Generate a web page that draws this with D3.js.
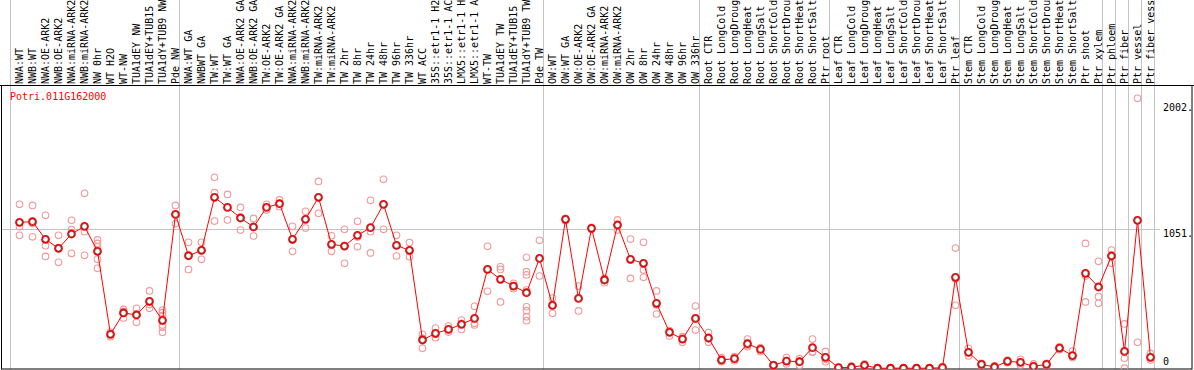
<!DOCTYPE html>
<html>
<head>
<meta charset="utf-8">
<script src="https://cdn.jsdelivr.net/npm/d3@7"></script>
<style>
  body { margin: 0; background: #fff; }
  svg { display: block; }
  text { font-family: 'DejaVu Sans Mono', 'Liberation Mono', monospace; font-size: 10px; }
</style>
</head>
<body>
<div id="vis"></div>
<script>
// gene shown in the plot
const geneId = 'Potri.011G162000';

// sample names, one per column (as far as they are readable in the header)
const labels = [
  'NWA:WT', 'NWB:WT', 'NWA:OE-ARK2', 'NWB:OE-ARK2', 'NWA:miRNA-ARK2', 'NWB:miRNA-ARK2',
  'NW 0hr', 'WT H2O', 'WT-NW', 'TUA1dEY NW', 'TUA1dEY+TUB15', 'TUA1dY+TUB9 NW', 'Pde NW',
  'NWA:WT GA', 'NWBWT GA', 'TW:WT', 'TW:WT GA', 'NWA:OE-ARK2 GA', 'NWB:OE-ARK2 GA',
  'TW:OE-ARK2', 'TW:OE-ARK2 GA', 'NWA:miRNA-ARK2', 'NWB:miRNA-ARK2', 'TW:miRNA-ARK2',
  'TW:miRNA-ARK2', 'TW 2hr', 'TW 8hr', 'TW 24hr', 'TW 48hr', 'TW 96hr', 'TW 336hr',
  'WT ACC', '35S::etr1-1 H2', '35S::etr1-1 AC', 'LMX5::etr1-1 H', 'LMX5::etr1-1 A',
  'WT-TW', 'TUA1dEY TW', 'TUA1dEY+TUB15', 'TUA1dY+TUB9 TW', 'Pde TW',
  'OW:WT', 'OW:WT GA', 'OW:OE-ARK2', 'OW:OE-ARK2 GA', 'OW:miRNA-ARK2', 'OW:miRNA-ARK2',
  'OW 2hr', 'OW 8hr', 'OW 24hr', 'OW 48hr', 'OW 96hr', 'OW 336hr',
  'Root CTR', 'Root LongCold', 'Root LongDroug', 'Root LongHeat', 'Root LongSalt',
  'Root ShortCold', 'Root ShortDrou', 'Root ShortHeat', 'Root ShortSalt', 'Ptr root',
  'Leaf CTR', 'Leaf LongCold', 'Leaf LongDroug', 'Leaf LongHeat', 'Leaf LongSalt',
  'Leaf ShortCold', 'Leaf ShortDrou', 'Leaf ShortHeat', 'Leaf ShortSalt', 'Ptr leaf',
  'Stem CTR', 'Stem LongCold', 'Stem LongDroug', 'Stem LongHeat', 'Stem LongSalt',
  'Stem ShortCold', 'Stem ShortDrou', 'Stem ShortHeat', 'Stem ShortSalt',
  'Ptr shoot', 'Ptr xylem', 'Ptr phloem', 'Ptr fiber', 'Ptr vessel', 'Ptr fiber vess',
];

// mean expression per column
const means = [
  1101, 1106, 973, 905, 1013, 1071, 882, 256, 417, 402, 505, 361, 1161, 849, 890,
  1290, 1214, 1134, 1066, 1214, 1242, 973, 1124, 1290, 935, 922, 1003, 1061, 1237, 927,
  890, 213, 263, 293, 331, 376, 746, 671, 620, 570, 829, 474, 1124, 527, 1056,
  666, 1081, 822, 792, 490, 271, 220, 376, 228, 62, 72, 185, 142, 22, 54,
  49, 155, 82, 4, 7, 22, 0, 0, 0, 0, 0, 4, 686, 120, 29,
  9, 52, 44, 14, 29, 152, 95, 716, 613, 847, 127, 1116, 82,
];

// individual replicate values per column
const replicates = [
  [1237, 1068, 1003], [1229, 1092, 992], [1154, 925, 844], [1003, 910, 799],
  [1117, 1046, 867], [1320, 1031, 852], [968, 942, 917, 822, 754], [271, 256, 238],
  [444, 427, 379], [452, 407, 346], [583, 480, 452], [439, 419, 397, 326, 309, 271],
  [1229, 1161, 1092], [950, 849, 746], [950, 892, 822], [1441, 1325, 1111],
  [1312, 1214, 1119], [1214, 1139, 1043], [1131, 1066, 998], [1237, 1214, 1194],
  [1270, 1242, 1219], [1071, 968, 882], [1184, 1124, 1058], [1410, 1290, 1169],
  [1000, 927, 882], [1048, 922, 792], [1109, 990, 917], [1267, 1031, 870],
  [1426, 1237, 1048], [1003, 927, 847], [948, 885, 842], [256, 225, 150],
  [303, 256, 230], [318, 293, 273], [364, 339, 293], [467, 339, 326],
  [920, 746, 580], [766, 746, 500], [641, 620, 600],
  [837, 729, 704, 590, 464, 434, 389, 359], [965, 829, 696], [530, 480, 414],
  [1131, 1124, 1114], [620, 527, 432], [1063, 1056, 1048], [678, 671, 646],
  [1119, 1081, 1043], [975, 817, 678], [950, 742, 686], [583, 477, 409],
  [283, 281, 243], [238, 225, 195], [469, 371, 288], [268, 223, 195],
  [80, 57, 49], [87, 72, 57], [220, 172, 162], [155, 142, 125], [27, 22, 17],
  [80, 57, 32], [72, 52, 22], [220, 125, 120], [127, 67, 49], [4, 4, 4],
  [17, 7, 0], [32, 22, 12], [0, 0, 0], [0, 0, 0], [0, 0, 0], [0, 0, 0], [0, 0, 0],
  [12, 4, 0], [907, 676, 475], [150, 120, 92], [37, 29, 22], [17, 9, 0],
  [62, 52, 42], [67, 44, 24], [32, 14, 0], [37, 29, 22], [162, 152, 140],
  [130, 95, 80], [942, 696, 500], [807, 540, 490], [892, 854, 792], [334, 75, 0],
  [2037, 195], [112, 82, 62],
];

// first column of each sample group (last entry closes the final group)
const groupStarts = [0, 13, 41, 53, 63, 73, 84, 85, 86, 87, 88];

// right-hand axis
const tickValues = [0, 1051, 2002];
const tickLabels = ['0', '1051.', '2002.'];
const gridValues = [1051];

const W = 1194; const H = 370;
const plot = {left: 1, right: 1192, top: 85.5, bottom: 369};

const svg = d3.select('#vis')
  .append('svg')
  .attr('width', W)
  .attr('height', H);

const x = d3.scaleBand()
  .domain(d3.range(labels.length))
  .range([13, 13 + 13 * labels.length]);
const y = d3.scaleLinear()
  .domain([0, 2002])
  .range([368.2, 103]);
const cx = (i) => x(i) + x.bandwidth() / 2;

svg.append('defs').append('clipPath')
  .attr('id', 'plotclip')
  .append('rect')
  .attr('x', plot.left).attr('y', plot.top)
  .attr('width', plot.right - plot.left).attr('height', plot.bottom - plot.top);

// horizontal grid
svg.selectAll('.hgrid')
  .data(gridValues)
  .enter()
  .append('line')
  .attr('x1', plot.left).attr('x2', 1160)
  .attr('y1', (d) => Math.round(y(d)) + 0.5)
  .attr('y2', (d) => Math.round(y(d)) + 0.5)
  .attr('stroke', '#c4c4c4');

// group separators run through header and plot
svg.selectAll('.vgrid')
  .data(groupStarts)
  .enter()
  .append('line')
  .attr('x1', (d) => x.step() * d + 13 - 2.5)
  .attr('x2', (d) => x.step() * d + 13 - 2.5)
  .attr('y1', 0).attr('y2', plot.bottom)
  .attr('stroke', '#c4c4c4');

// column labels
svg.selectAll('.lbl')
  .data(labels)
  .enter()
  .append('text')
  .attr('transform', (d, i) => 'translate(' + (cx(i) + 3.5) + ',84) rotate(-90)')
  .attr('fill', '#000')
  .text((d) => d);

// frame
svg.append('line')
  .attr('x1', 0).attr('x2', W)
  .attr('y1', plot.top).attr('y2', plot.top)
  .attr('stroke', '#000');
svg.append('rect')
  .attr('x', plot.left + 0.5).attr('y', plot.top)
  .attr('width', plot.right - plot.left - 0.5)
  .attr('height', plot.bottom - plot.top)
  .attr('fill', 'none')
  .attr('stroke', '#000');

const g = svg.append('g').attr('clip-path', 'url(#plotclip)');

// replicate points
const repPts = [];
replicates.forEach((r, i) => r.forEach((v) => repPts.push({i: i, v: v})));
g.selectAll('.rep')
  .data(repPts)
  .enter()
  .append('circle')
  .attr('cx', (d) => cx(d.i))
  .attr('cy', (d) => y(d.v))
  .attr('r', 3.3)
  .attr('fill', 'none')
  .attr('stroke', '#f09a9a')
  .attr('stroke-width', 1.1);

// mean line
g.append('path')
  .datum(means)
  .attr('d', d3.line().x((d, i) => cx(i)).y((d) => y(d)))
  .attr('fill', 'none')
  .attr('stroke', '#ff0000')
  .attr('stroke-width', 1);

// mean markers
const mk = g.selectAll('.mean')
  .data(means)
  .enter()
  .append('g')
  .attr('transform', (d, i) => 'translate(' + cx(i) + ',' + y(d) + ')');
mk.append('circle')
  .attr('r', 3.6)
  .attr('fill', '#fff')
  .attr('stroke', '#ff0000')
  .attr('stroke-width', 1.6);
mk.append('circle')
  .attr('r', 2.7)
  .attr('fill', 'none')
  .attr('stroke', '#000')
  .attr('stroke-width', 0.5);

// gene id
svg.append('text')
  .attr('x', 10).attr('y', 100)
  .attr('fill', '#ff0000')
  .text(geneId);

// right axis labels
svg.selectAll('.tick')
  .data(tickValues)
  .enter()
  .append('text')
  .attr('x', 1163)
  .attr('y', (d) => Math.min(y(d) + 7.7, 365))
  .attr('fill', '#000')
  .text((d, i) => tickLabels[i]);
</script>
</body>
</html>
